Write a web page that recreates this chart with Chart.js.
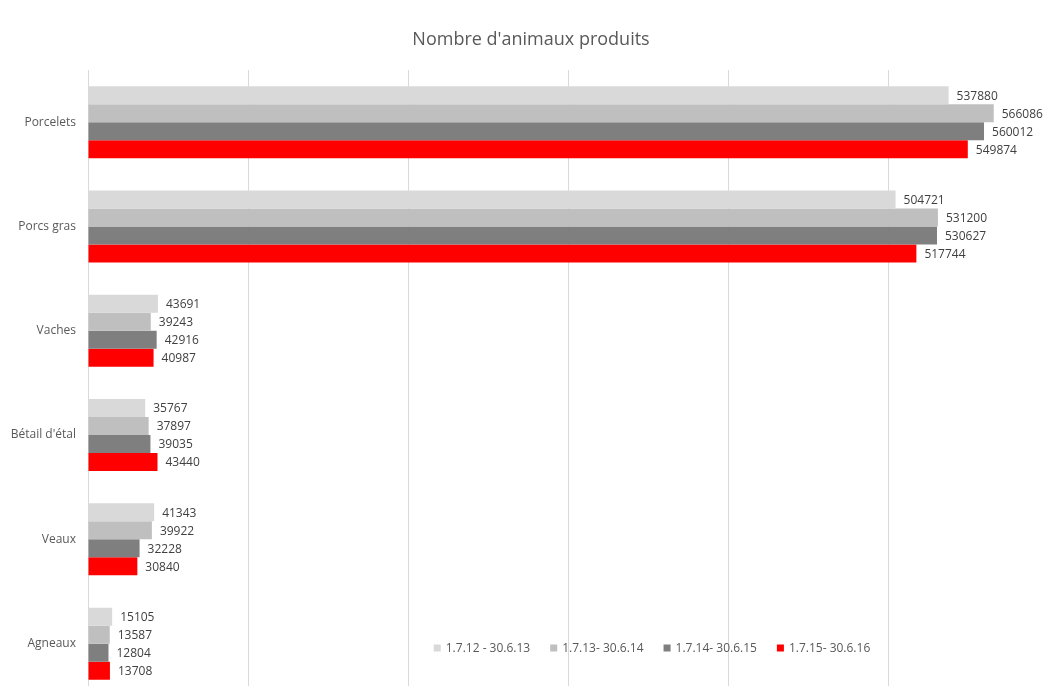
<!DOCTYPE html>
<html>
<head>
<meta charset="utf-8">
<script src="https://cdn.jsdelivr.net/npm/chart.js@4"></script>
<style>
  html, body { margin: 0; padding: 0; background: #fff; overflow: hidden; }
  #wrap { position: absolute; left: 0; top: 0; width: 1078px; height: 715px; }
</style>
</head>
<body>
<div id="wrap"><canvas id="chart"></canvas></div>
<script>
// categories + one array per season
const title = "Nombre d'animaux produits";
const categories = ["Porcelets", "Porcs gras", "Vaches", "Bétail d'étal", "Veaux", "Agneaux"];
const seasons = ["1.7.12 - 30.6.13", "1.7.13- 30.6.14", "1.7.14- 30.6.15", "1.7.15- 30.6.16"];
const s2013 = [537880, 504721, 43691, 35767, 41343, 15105];
const s2014 = [566086, 531200, 39243, 37897, 39922, 13587];
const s2015 = [560012, 530627, 42916, 39035, 32228, 12804];
const s2016 = [549874, 517744, 40987, 43440, 30840, 13708];
const colors = ["#d9d9d9", "#bfbfbf", "#7f7f7f", "#ff0000"];

const FONT = "'Open Sans', 'Liberation Sans', sans-serif";

// title centred on the visible picture, not on the padded box
const topTitle = {
  id: "topTitle",
  afterDraw(c) {
    const ctx = c.ctx;
    ctx.save();
    ctx.font = "18px " + FONT;
    ctx.fillStyle = "#595959";
    ctx.textAlign = "center";
    ctx.textBaseline = "middle";
    ctx.fillText(title, 531, 40);
    ctx.restore();
  }
};

// value text right of each bar
const barLabels = {
  id: "barLabels",
  afterDatasetsDraw(c) {
    const ctx = c.ctx;
    ctx.save();
    ctx.font = "12px " + FONT;
    ctx.fillStyle = "#404040";
    ctx.textBaseline = "middle";
    c.data.datasets.forEach((ds, i) => {
      c.getDatasetMeta(i).data.forEach((bar, j) => {
        ctx.fillText(String(ds.data[j]), bar.x + 8, bar.y + 1);
      });
    });
    ctx.restore();
  }
};

// legend sits inside the plot, near the bottom
const innerLegend = {
  id: "innerLegend",
  afterDraw(c) {
    const ctx = c.ctx;
    ctx.save();
    ctx.font = "12px " + FONT;
    ctx.textBaseline = "middle";
    const items = c.data.datasets.map(ds => ({ text: ds.label, color: ds.backgroundColor, w: ctx.measureText(ds.label).width }));
    const box = 7, gap = 5, spacing = 20;
    const total = items.reduce((s, it) => s + box + gap + it.w, 0) + spacing * (items.length - 1);
    let x = 652 - total / 2;
    const y = 648;
    items.forEach(it => {
      ctx.fillStyle = it.color;
      ctx.fillRect(x, y - box / 2, box, box);
      x += box + gap;
      ctx.fillStyle = "#595959";
      ctx.fillText(it.text, x, y + 1);
      x += it.w + spacing;
    });
    ctx.restore();
  }
};

new Chart(document.getElementById("chart"), {
  type: "bar",
  data: {
    labels: categories,
    datasets: [s2013, s2014, s2015, s2016].map((d, i) => ({
      label: seasons[i],
      data: d,
      backgroundColor: colors[i],
      barPercentage: 1,
      categoryPercentage: 0.69,
    }))
  },
  options: {
    indexAxis: "y",
    responsive: true, maintainAspectRatio: false,
    animation: false,
    layout: { padding: { left: 0, right: 30, top: 70, bottom: 5 } },
    plugins: {
      legend: { display: false },
      tooltip: { enabled: false },
      title: { display: false }
    },
    scales: {
      x: {
        min: 0, max: 600000,
        ticks: { display: false, stepSize: 100000 },
        grid: { color: "#d9d9d9", drawTicks: false },
        border: { display: false },
        afterFit: s => { s.height = 0; }
      },
      y: {
        ticks: { color: "#595959", font: { family: FONT, size: 12 }, padding: 12 },
        grid: { display: false, drawTicks: false },
        border: { display: false },
        afterFit: s => { s.width = 88; }
      }
    }
  },
  plugins: [barLabels, innerLegend, topTitle]
});
</script>
</body>
</html>
